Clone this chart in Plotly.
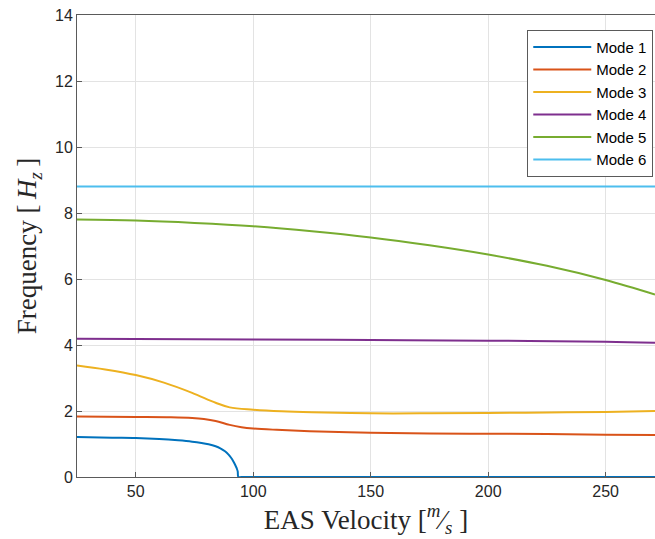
import plotly.graph_objects as go

# ---- data ----
v_mode1 = [25, 40, 50, 60, 68, 74, 78, 81, 84, 86, 88, 89.5, 90.5, 91.5, 92.3, 93, 93.4, 93.7, 95, 150, 200, 250, 271]
f_mode1 = [1.21, 1.19, 1.18, 1.15, 1.11, 1.07, 1.03, 0.99, 0.93, 0.87, 0.78, 0.68, 0.59, 0.48, 0.37, 0.26, 0.17, 0.0, 0, 0, 0, 0, 0]

v_mode2 = [25, 50, 65, 74, 79, 84, 90, 95, 100, 110, 124, 150, 175, 200, 225, 250, 271]
f_mode2 = [1.83, 1.82, 1.81, 1.79, 1.76, 1.70, 1.58, 1.51, 1.47, 1.43, 1.39, 1.34, 1.32, 1.31, 1.30, 1.28, 1.27]

v_mode3 = [25, 37, 50, 62, 74, 84, 90, 100, 112, 125, 150, 175, 200, 225, 250, 271]
f_mode3 = [3.38, 3.26, 3.09, 2.86, 2.55, 2.25, 2.11, 2.04, 1.99, 1.96, 1.93, 1.93, 1.94, 1.955, 1.97, 2.00]

v_mode4 = [25, 100, 150, 200, 250, 271]
f_mode4 = [4.19, 4.17, 4.15, 4.13, 4.10, 4.07]

v_mode5 = [25, 50, 75, 100, 125, 150, 175, 200, 225, 250, 271]
f_mode5 = [7.80, 7.77, 7.70, 7.60, 7.45, 7.26, 7.02, 6.74, 6.40, 5.97, 5.53]

v_mode6 = [25, 271]
f_mode6 = [8.8, 8.8]

names = ["Mode 1", "Mode 2", "Mode 3", "Mode 4", "Mode 5", "Mode 6"]
colors = ["#0072BD", "#D95319", "#EDB120", "#7E2F8E", "#77AC30", "#4DBEEE"]
x_ticks = [50, 100, 150, 200, 250]
y_ticks = [0, 2, 4, 6, 8, 10, 12, 14]

series = [(v_mode1, f_mode1), (v_mode2, f_mode2), (v_mode3, f_mode3),
          (v_mode4, f_mode4), (v_mode5, f_mode5), (v_mode6, f_mode6)]

fig = go.Figure()
for i, ((xv, yv), name, col) in enumerate(zip(series, names, colors)):
    fig.add_trace(go.Scatter(
        x=xv, y=yv, mode="lines", name=name,
        line=dict(color=col, width=2, shape="spline", smoothing=1.0),
    ))

axis_common = dict(
    showline=True, linecolor="#5a5a5a", linewidth=1, mirror=True,
    ticks="inside", ticklen=5, tickcolor="#5a5a5a",
    showgrid=True, gridcolor="#e3e3e3", gridwidth=1,
    zeroline=False,
    tickfont=dict(family="Liberation Sans, Arial", size=16, color="#262626"),
)

title_font = dict(family="Liberation Serif, Times New Roman", size=27, color="#262626")

fig.update_layout(
    width=655, height=539,
    margin=dict(l=77, r=0, t=15, b=62),
    paper_bgcolor="white", plot_bgcolor="white",
    xaxis=dict(range=[25, 271], tickvals=x_ticks, **axis_common,
               title=dict(text="EAS Velocity [<sup><i>m</i></sup>&#8260;<sub><i>s</i></sub> ]",
                          font=title_font, standoff=0)),
    yaxis=dict(range=[0, 14], tickvals=y_ticks, **axis_common,
               title=dict(text="Frequency [&#8201;<i>H</i><sub><i>z</i></sub>&#8201;]",
                          font=title_font, standoff=10)),
    legend=dict(x=0.997, y=0.968, xanchor="right", yanchor="top",
                bgcolor="white", bordercolor="#5a5a5a", borderwidth=1,
                font=dict(family="Liberation Sans, Arial", size=15, color="#000000"),
                itemwidth=58, tracegroupgap=0),
    showlegend=True,
)

fig.write_html("out.html")
